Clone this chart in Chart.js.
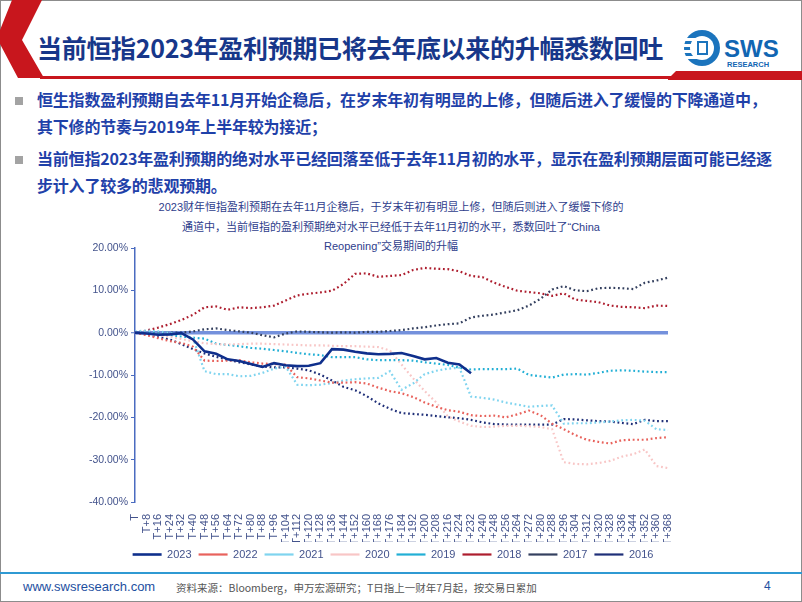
<!DOCTYPE html>
<html>
<head>
<meta charset="utf-8">
<script src="https://cdn.jsdelivr.net/npm/chart.js@4.4.0/dist/chart.umd.min.js"></script>
<style>
    html, body { margin: 0; padding: 0; }
    body {
        width: 802px; height: 602px; position: relative; overflow: hidden;
        background: #fff; font-family: "Noto Sans CJK SC", sans-serif;
    }
    .frame { position: absolute; left: 0; top: 0; width: 800px; height: 600px; border: 1px solid #8c8c8c; }
    .deco { position: absolute; left: 0; top: 0; }
    .title {
        position: absolute; left: 37px; top: 30px; font-size: 25px; font-weight: 700;
        color: #17378a; white-space: nowrap; line-height: 34px; letter-spacing: -0.3px;
    }
    .bullets { position: absolute; left: 0; top: 86px; width: 802px; }
    .bullet { position: relative; padding-left: 37px; font-size: 16px; font-weight: 700; color: #1f41a9; line-height: 27px; margin-bottom: 5px; white-space: nowrap; letter-spacing: -0.2px; }
    .bullet::before { content: ""; position: absolute; left: 15px; top: 11px; width: 8px; height: 8px; background: #a3a3a3; }
    .chart-title {
        position: absolute; left: 90px; width: 602px; top: 198px; text-align: center;
        font-family: "Liberation Sans", Arial, "Noto Sans CJK SC", sans-serif;
        font-size: 11px; line-height: 19.5px; color: #2e3d8c;
    }
    .chart-box { position: absolute; left: 80px; top: 238px; width: 622px; height: 334px; }
    .footer-line { position: absolute; left: 0; top: 572px; width: 802px; height: 2px; background: #2f9ad3; }
    .footer { position: absolute; top: 579px; font-size: 12px; white-space: nowrap; }
    .site { left: 23px; color: #1d4f9f; font-family: "Liberation Sans", Arial, sans-serif; font-size: 13px; }
    .source { left: 176px; color: #555; font-size: 10.5px; top: 580px; }
    .page { left: 764px; color: #1d4f9f; font-family: "Liberation Sans", Arial, sans-serif; }
</style>
</head>
<body>
<div class="frame"></div>
<svg class="deco" width="802" height="82">
    <polygon points="12,0 42,0 22,40 44,78 18,78 0,44 0,30" fill="#c8161d"/>
    <rect x="40" y="76" width="762" height="3" fill="#c8161d"/>
    <polygon points="668,79 676,71 802,71 802,80 668,80" fill="#c8161d"/>
    <circle cx="702" cy="48" r="18" fill="#1b74bd"/>
    <circle cx="702" cy="48" r="12" fill="#ffffff"/>
    <rect x="684" y="38" width="18" height="3" fill="#ffffff"/>
    <rect x="684" y="44" width="18" height="3" fill="#ffffff"/>
    <rect x="684" y="50" width="18" height="3" fill="#ffffff"/>
    <rect x="684" y="56" width="18" height="3" fill="#ffffff"/>
    <rect x="697" y="41" width="11" height="14" fill="#1b74bd"/>
    <rect x="699" y="43" width="7" height="10" fill="#ffffff"/>
    <text x="724" y="57" font-family="Liberation Sans, Arial" font-weight="700" font-size="24" fill="#1166b3">SWS</text>
    <text x="727" y="67" font-family="Liberation Sans, Arial" font-weight="700" font-size="7.5" fill="#1166b3">RESEARCH</text>
</svg>
<div class="title">当前恒指2023年盈利预期已将去年底以来的升幅悉数回吐</div>
<div class="bullets">
    <div class="bullet">恒生指数盈利预期自去年11月开始企稳后，在岁末年初有明显的上修，但随后进入了缓慢的下降通道中，<br>其下修的节奏与2019年上半年较为接近；</div>
    <div class="bullet">当前恒指2023年盈利预期的绝对水平已经回落至低于去年11月初的水平，显示在盈利预期层面可能已经逐<br>步计入了较多的悲观预期。</div>
</div>
<div class="chart-title">2023财年恒指盈利预期在去年11月企稳后，于岁末年初有明显上修，但随后则进入了缓慢下修的<br>通道中，当前恒指的盈利预期绝对水平已经低于去年11月初的水平，悉数回吐了“China<br>Reopening”交易期间的升幅</div>
<div class="chart-box"><canvas id="earnChart"></canvas></div>
<div class="footer-line"></div>
<div class="footer site">www.swsresearch.com</div>
<div class="footer source">资料来源：Bloomberg，申万宏源研究；T日指上一财年7月起，按交易日累加</div>
<div class="footer page">4</div>

<script>
// Tick labels: T, T+8 ... T+368
const days = [];
for (let d = 0; d <= 368; d += 8) days.push(d);
const labels = days.map(d => d === 0 ? 'T' : 'T+' + d);

// Cumulative change of FY earnings forecast (%), read every 8 trading days
const s2023 = [0, -0.2, -0.5, -0.4, -0.1, -1.6, -4.4, -5, -6.3, -6.7,
    -7.4, -8.1, -7.2, -7.7, -7.9, -7.8, -7.2, -3.9, -4, -4.5,
    -4.9, -5.1, -5, -4.8, -5.5, -6.3, -6, -7.1, -7.5, -9.6];
const s2022 = [0, -0.6, -1.3, -2, -2.4, -3.3, -6.6, -6.7, -6.6, -6.5,
    -7, -7.3, -7.4, -7.6, -10.5, -10.8, -11.3, -11.8, -11.8, -11.7,
    -12, -13, -13.8, -14.3, -15.2, -16.5, -17.5, -18.3, -18.7, -19.5,
    -19.7, -19.6, -20, -19.3, -18.4, -19.5, -21.5, -22.8, -24.2, -25.3,
    -25.8, -26.2, -25.4, -25.3, -25.3, -24.9, -24.7];
const s2021 = [0.3, 0.5, 0.3, 0, -0.5, -1.2, -9.1, -9.8, -9.8, -10.3,
    -10.2, -9.5, -8.5, -8, -12.3, -12.4, -12.3, -11.9, -11.3, -11,
    -10.8, -10.7, -9.1, -13.5, -12, -9.8, -9, -8.5, -8.3, -15.1,
    -15.4, -15.8, -16.5, -17, -17.5, -17.3, -17.2, -21.5, -21.4, -21.4,
    -21.2, -21, -20.7, -20.6, -20.8, -22.8, -23];
const s2020 = [0, -0.3, -0.6, -1, -1.5, -2, -2.5, -2.7, -2.8, -2.7,
    -2.6, -2.6, -2.7, -2.8, -2.9, -3, -3, -3.1, -3.2, -3.2,
    -3.3, -3.4, -4.2, -7.5, -10.8, -13.8, -16.5, -19.8, -21, -22,
    -22.3, -22.2, -22, -22, -22.1, -22.3, -22.8, -30.6, -31, -31.1,
    -30.8, -30.3, -29.3, -28.7, -27.6, -31.5, -32];
const s2019 = [0, 0, -0.3, -0.6, -0.9, -1.2, -1.4, -2.6, -2.9, -3.2,
    -3.6, -3.8, -4.1, -4.4, -4.8, -5.1, -5.3, -5.8, -5.8, -5.8,
    -6.3, -6.5, -6.5, -6.5, -6.6, -7, -7.3, -7.6, -8.3, -8.7,
    -8.6, -8.6, -8.6, -8.5, -10, -10.3, -10.6, -9.9, -9.8, -9.9,
    -9.5, -9, -8.9, -9, -9.2, -9.3, -9.3];
const s2018 = [0, 0.5, 1.2, 2, 3, 4.2, 6, 6.2, 5.4, 6,
    5.8, 6, 6.4, 7.6, 8.8, 9.2, 9.5, 9.9, 11.5, 13.9,
    14, 13.2, 13.4, 13.6, 14.8, 15.3, 15.1, 15, 14.5, 13.4,
    13.1, 11.8, 10.8, 9.9, 9.6, 9.3, 8.7, 9.3, 7.8, 7.5,
    7.2, 6.4, 6.1, 6, 5.8, 6.4, 6.3];
const s2017 = [0, 0, 0, 0, 0, 0.3, 0.8, 1, 0.6, 0.3,
    0, -0.6, -1.1, -0.2, 0.3, 0.2, 0.1, 0, 0.1, 0,
    0.2, 0.2, 0.4, 0.6, 1, 1.3, 1.7, 2, 2.2, 3.6,
    4, 4.3, 4.8, 5.3, 6.4, 8, 10.2, 11, 10, 9.8,
    10.5, 10.6, 10.5, 10.3, 11.8, 12.3, 13];
const s2016 = [0, -0.4, -1, -1.6, -2.7, -3.9, -4.9, -5.7, -6.4, -7,
    -7.5, -8, -8.2, -8.2, -8.5, -8.9, -9.9, -11.3, -12.8, -13.6,
    -15, -16.7, -18, -19, -19.2, -19.4, -19.7, -20, -20.2, -20.6,
    -21.2, -21.6, -21.7, -21.7, -21.7, -21.7, -21.7, -20.4, -20.5, -20.7,
    -20.9, -21, -21.3, -21.6, -20.6, -20.9, -20.9];

const axisBlue = '#4a6bc0';
const textBlue = '#43538c';
const dot = [1.8, 2.7];

function series(label, data, color, dashed) {
    return {
        label: label,
        data: data,
        borderColor: color,
        backgroundColor: color,
        borderWidth: dashed ? 2.2 : 2.6,
        borderDash: dashed ? dot : [],
        pointRadius: 0,
        pointStyle: 'line',
        tension: 0,
        fill: false
    };
}

// Nudge the legend so it is centred under the whole chart, not just the plot
const legendShift = {
    id: 'legendShift',
    afterLayout(chart) {
        if (chart.legend) {
            chart.legend.left += 19;
            chart.legend.right += 19;
        }
    }
};

const ctx = document.getElementById('earnChart').getContext('2d');
new Chart(ctx, {
    type: 'line',
    data: {
        labels: labels,
        datasets: [
            series('2023', s2023, '#0f2f8c', false),
            series('2022', s2022, '#e8625c', true),
            series('2021', s2021, '#7fd4ef', true),
            series('2020', s2020, '#f8c6c6', true),
            series('2019', s2019, '#22afd5', true),
            series('2018', s2018, '#ad1d2e', true),
            series('2017', s2017, '#34405f', true),
            series('2016', s2016, '#1f2f78', true)
        ]
    },
    plugins: [legendShift],
    options: {
        responsive: true,
        maintainAspectRatio: false,
        animation: false,
        layout: { padding: { top: 10, right: 34, bottom: 2, left: 0 } },
        plugins: {
            title: { display: false },
            tooltip: { enabled: false },
            legend: {
                position: 'bottom',
                labels: {
                    usePointStyle: true,
                    pointStyleWidth: 29,
                    padding: 7,
                    color: textBlue,
                    font: { family: '"Liberation Sans", Arial', size: 11 }
                }
            }
        },
        scales: {
            x: {
                afterFit: (scale) => { scale.height = 40; },
                grid: { display: false },
                border: { display: false },
                ticks: {
                    autoSkip: false,
                    maxRotation: 90,
                    minRotation: 90,
                    padding: 4,
                    color: textBlue,
                    font: { family: '"Liberation Sans", Arial', size: 11 }
                }
            },
            y: {
                min: -40,
                max: 20,
                afterFit: (scale) => { scale.width = 55; },
                border: { display: true, color: axisBlue, width: 1.5 },
                grid: {
                    color: (c) => c.tick && c.tick.value === 0 ? 'rgba(92,126,214,0.85)' : 'rgba(0,0,0,0)',
                    lineWidth: (c) => c.tick && c.tick.value === 0 ? 3.5 : 1,
                    tickColor: axisBlue,
                    tickWidth: 1,
                    tickLength: 4
                },
                ticks: {
                    stepSize: 10,
                    padding: 3,
                    color: textBlue,
                    font: { family: '"Liberation Sans", Arial', size: 10.5 },
                    callback: (v) => v.toFixed(2) + '%'
                }
            }
        }
    }
});
</script>
</body>
</html>
